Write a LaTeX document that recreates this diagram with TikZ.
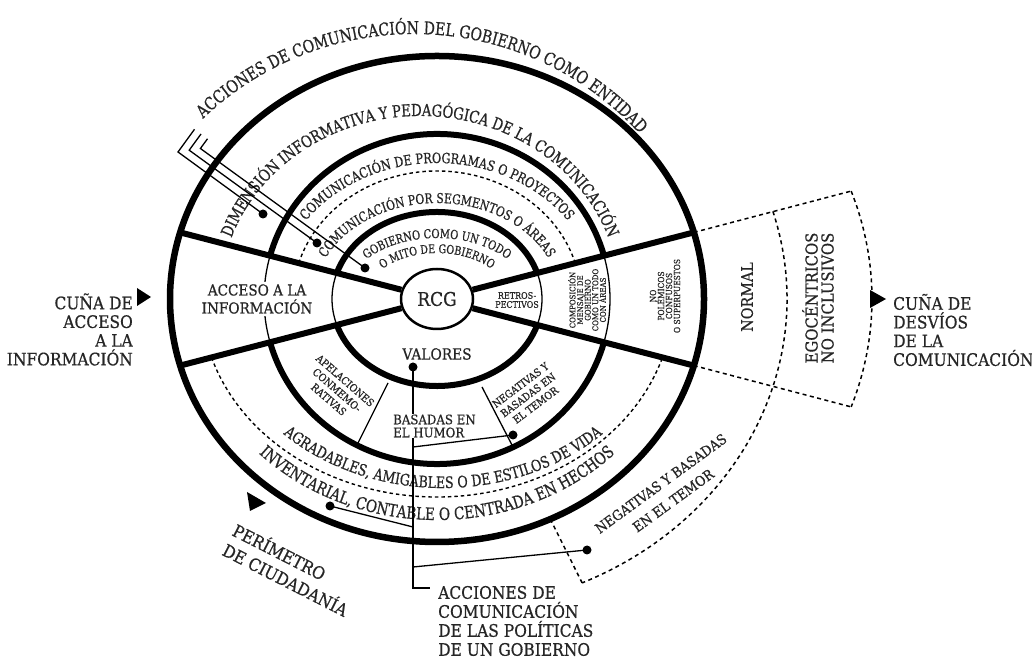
\documentclass[tikz,border=0pt]{standalone}
\usepackage{fontspec}
\setmainfont{DejaVu Serif}
\newfontfamily\cf[FakeStretch=0.8,FakeBold=0.6]{DejaVu Serif}
\newfontfamily\lf[FakeStretch=0.9,FakeBold=0.6]{DejaVu Serif}
\usetikzlibrary{shapes.geometric,decorations.text,calc}
\definecolor{txt}{gray}{0.15}
\newcommand\myfs[2]{\fontsize{#1}{#2}\selectfont}
\begin{document}
\begin{tikzpicture}[x=1pt,y=1pt,
  thk/.style={line width=6pt},
  thn/.style={line width=1.3pt},
  dsh/.style={line width=1.4pt, dash pattern=on 3.5pt off 3pt},
  wdsh/.style={line width=1.5pt, dash pattern=on 4pt off 3.5pt},
  leader/.style={line width=1.3pt},
  dot/.style={circle, fill=black, inner sep=0pt, minimum size=9pt},
  lbl/.style={text=txt, inner sep=0pt},
  arctxt/.style={decorate, decoration={text along path, text align=center, text color=txt, text={#1}}}
]
\fill[white] (0,0) rectangle (1032,660);
\useasboundingbox (0,0) rectangle (1032,660);
\coordinate (C) at (437,361);
\coordinate (TC) at (414,321);
\coordinate (DC) at (420,361);
\coordinate (AC) at (443,361);

% spoke end points on outer ellipse
\coordinate (sUR) at ([shift={(15.9:267 and 243)}]C);
\coordinate (sLR) at ([shift={(-15.9:267 and 243)}]C);
\coordinate (sUL) at ([shift={(164.1:267 and 243)}]C);
\coordinate (sLL) at ([shift={(195.9:267 and 243)}]C);
% right dashed wedge
\coordinate (wUR) at ([shift={(17.8:435 and 353)}]C);
\coordinate (wLR) at ([shift={(-17.8:435 and 353)}]C);
\coordinate (mS) at ([shift={(16.3:350 and 312)}]C);
\coordinate (mE) at ([shift={(-65.5:350 and 312)}]C);
\coordinate (rO) at ([shift={(-64.9:267 and 243)}]C);

\draw[wdsh] (sUR) -- (wUR);
\draw[wdsh] (sLR) -- (wLR);
\draw[wdsh] (wUR) arc[start angle=17.8, end angle=-17.8, x radius=435, y radius=353];
\draw[wdsh] (mS) arc[start angle=16.3, end angle=-65.5, x radius=350, y radius=312];
\draw[wdsh] (rO) -- (mE);

% outer ellipse
\draw[line width=6.5pt] (C) ellipse[x radius=267, y radius=243];
% ring 2
\draw[thk] ([shift={(15.3:173 and 165)}]C) arc[start angle=15.3, end angle=164.7, x radius=173, y radius=165];
\draw[thk] ([shift={(195.3:173 and 165)}]C) arc[start angle=195.3, end angle=344.7, x radius=173, y radius=165];
\draw[thn] ([shift={(-15.3:173 and 165)}]C) arc[start angle=-15.3, end angle=15.3, x radius=173, y radius=165];
\draw[thn] ([shift={(164.7:173 and 165)}]C) arc[start angle=164.7, end angle=195.3, x radius=173, y radius=165];
% ring 3
\draw[thk] ([shift={(17.4:105 and 87)}]C) arc[start angle=17.4, end angle=162.6, x radius=105, y radius=87];
\draw[thk] ([shift={(197.4:105 and 87)}]C) arc[start angle=197.4, end angle=342.6, x radius=105, y radius=87];
\draw[thn] ([shift={(-17.4:105 and 87)}]C) arc[start angle=-17.4, end angle=17.4, x radius=105, y radius=87];
\draw[thn] ([shift={(162.6:105 and 87)}]C) arc[start angle=162.6, end angle=197.4, x radius=105, y radius=87];
% dashed ellipses
\draw[dsh] ([shift={(16.3:144 and 128)}]C) arc[start angle=16.3, end angle=163.7, x radius=144, y radius=128];
\draw[dsh] ([shift={(197.2:236 and 198)}]C) arc[start angle=197.2, end angle=342.8, x radius=236, y radius=198];
% separators
\coordinate (sa1) at (388,277); \coordinate (sa2) at (357,215);
\coordinate (sb1) at (482,273); \coordinate (sb2) at (513,213);
\draw[thn] (sa1) -- (sa2);
\draw[thn] (sb1) -- (sb2);

% RCG and spokes
\node[ellipse, draw, line width=2.5pt, fill=white, minimum width=72pt, minimum height=60pt, inner sep=0pt, text=txt, font=\lf\myfs{18.9}{19}] (rcg) at (C) {RCG};
\draw[thk] (rcg) -- (sUR);
\draw[thk] (rcg) -- (sLR);
\draw[thk] (rcg) -- (sUL);
\draw[thk] (rcg) -- (sLL);

% curved texts
\path[arctxt={|\cf\myfs{17.5}{18}|ACCIONES DE COMUNICACIÓN DEL GOBIERNO COMO ENTIDAD}]
  ([shift={(140:305)}]TC) arc[start angle=140, end angle=36, radius=305];
\path[arctxt={|\cf\myfs{16.5}{17}|DIMENSIÓN INFORMATIVA Y PEDAGÓGICA DE LA COMUNICACIÓN}]
  ([shift={(170:200 and 183)}]DC) arc[start angle=170, end angle=10, x radius=200, y radius=183];
\path[arctxt={|\cf\myfs{14.1}{15}|COMUNICACIÓN DE PROGRAMAS O PROYECTOS}]
  ([shift={(165:160 and 136)}]C) arc[start angle=165, end angle=15, x radius=160, y radius=136];
\path[arctxt={|\cf\myfs{13.5}{14}|COMUNICACIÓN POR SEGMENTOS O ÁREAS}]
  ([shift={(170:123 and 96)}]C) arc[start angle=170, end angle=10, x radius=123, y radius=96];
\path[arctxt={|\cf\myfs{12.4}{13}|GOBIERNO COMO UN TODO}]
  ([shift={(172:93 and 61)}]C) arc[start angle=172, end angle=8, x radius=93, y radius=61];
\path[arctxt={|\cf\myfs{11.9}{12}|O MITO DE GOBIERNO}]
  ([shift={(172:72 and 46)}]C) arc[start angle=172, end angle=8, x radius=72, y radius=46];
\path[arctxt={|\cf\myfs{15.8}{16}|AGRADABLES, AMIGABLES O DE ESTILOS DE VIDA}]
  ([shift={(195:228 and 189)}]AC) arc[start angle=195, end angle=345, x radius=228, y radius=189];
\path[arctxt={|\cf\myfs{17}{17}|INVENTARIAL, CONTABLE O CENTRADA EN HECHOS}]
  ([shift={(195:249 and 221)}]C) arc[start angle=195, end angle=345, x radius=249, y radius=221];

% wedge texts
\node[lbl, font=\lf\myfs{15.1}{18}, align=center, fill=white, inner sep=2pt] (acc) at (257,361) {ACCESO A LA\\INFORMACIÓN};
\node[lbl, font=\lf\myfs{8.9}{9}, align=center] (retro) at (517,360) {RETROS-\\PECTIVOS};
\node[lbl, font=\lf\myfs{7.8}{7.6}, align=center, rotate=90] (comp) at (587,360) {COMPOSICIÓN\\MENSAJE DE\\GOBIERNO\\COMO UN TODO\\CON ÁREAS};
\node[lbl, font=\lf\myfs{8.3}{8}, align=center, rotate=90] (nopol) at (665,364) {NO\\POLÉMICOS\\CONFUSOS\\O SUPERPUESTOS};
\node[lbl, font=\lf\myfs{15.9}{16}, rotate=90] (normal) at (747,363) {NORMAL};
\node[lbl, font=\lf\myfs{16.5}{16}, align=center, rotate=90] (ego) at (818,362) {EGOCÉNTRICOS\\NO INCLUSIVOS};
\node[lbl, font=\lf\myfs{15.3}{15}] (val) at (437,306) {VALORES};
\node[lbl, font=\lf\myfs{10.4}{12.5}, align=center, rotate=-41] (apel) at (337,270) {APELACIONES\\CONMEMO-\\RATIVAS};
\node[lbl, font=\lf\myfs{10.4}{12.5}, align=center, rotate=37] (negin) at (528,265) {NEGATIVAS Y\\BASADAS EN\\EL TEMOR};
\node[lbl, font=\lf\myfs{14}{21}, align=center, rotate=36] (negout) at (667,168) {NEGATIVAS Y BASADAS\\EN EL TEMOR};

% outside labels
\node[lbl, font=\lf\myfs{17.2}{18.7}, align=right, anchor=east] (lw) at (133,330.5) {CUÑA DE\\ACCESO\\A LA\\INFORMACIÓN};
\node[lbl, font=\lf\myfs{17.2}{18.7}, align=left, anchor=west] (rw) at (893,330) {CUÑA DE\\DESVÍOS\\DE LA\\COMUNICACIÓN};
\node[lbl, font=\lf\myfs{17.2}{19}, align=left, anchor=west] (bl) at (438,39) {ACCIONES DE\\COMUNICACIÓN\\DE LAS POLÍTICAS\\DE UN GOBIERNO};
\node[lbl, font=\lf\myfs{17.2}{22}, align=left, rotate=-27] (per) at (291,91) {PERÍMETRO\\DE CIUDADANÍA};

% triangles
\fill (137,372) -- (137,354) -- (151,363) -- cycle;
\fill (870,370) -- (870,352) -- (886,361) -- cycle;
\fill (247,168) -- (250,149) -- (266,157) -- cycle;

% top-left chevron leaders
\node[dot] (d1) at (263,446) {};
\node[dot] (d2) at (317,417) {};
\node[dot] (d3) at (365,392) {};
\coordinate (A1) at (178,508); \coordinate (T1) at (194.5,530.7);
\coordinate (A2) at (189.2,509.8); \coordinate (T2) at (201,526);
\coordinate (A3) at (200.4,511.5); \coordinate (T3) at (207.5,521.2);
\draw[leader] (T1) -- (A1) -- (d1.center);
\draw[leader] (T2) -- (A2) -- (d2.center);
\draw[leader] (T3) -- (A3) -- (d3.center);

% bottom leaders
\node[dot] (dv) at (413,293) {};
\node[dot] (n1) at (513,225) {};
\node[dot] (n2) at (330,154) {};
\node[dot] (n3) at (587,110) {};
\coordinate (j1) at (413,213);
\coordinate (j2) at (413,133);
\coordinate (j3) at (413,93);
\coordinate (jend) at (413,72);
\coordinate (jtip) at (430,72);
\draw[leader] (dv.center) -- (j1) -- (j2) -- (j3) -- (jend) -- (jtip);
\draw[leader] (j1) -- (n1.center);
\draw[leader] (j2) -- (n2.center);
\draw[leader] (j3) -- (n3.center);
\node[lbl, font=\lf\myfs{13.1}{13}, align=left, fill=white, inner sep=1pt, anchor=west] (humor) at (392,234) {BASADAS EN\\EL HUMOR};
\end{tikzpicture}
\end{document}
